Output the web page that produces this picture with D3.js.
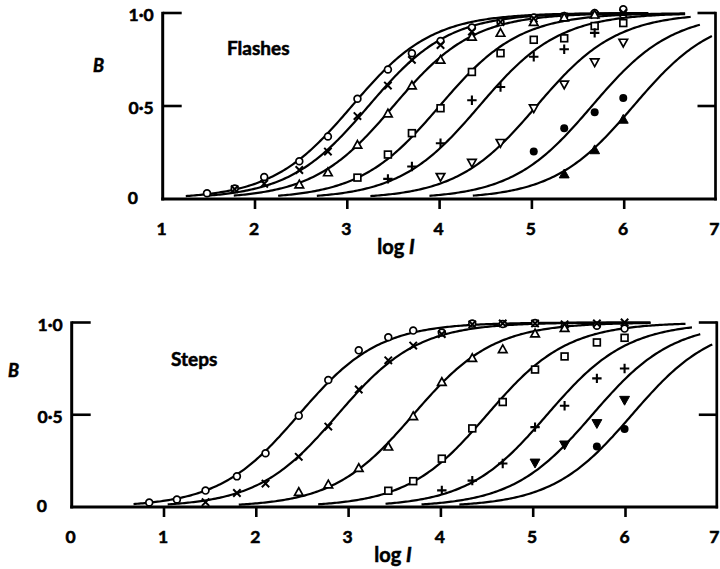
<!DOCTYPE html>
<html>
<head>
<meta charset="utf-8">
<script src="https://cdnjs.cloudflare.com/ajax/libs/d3/7.8.5/d3.min.js"></script>
<style>
  html, body { margin: 0; padding: 0; background: #fff; }
  svg { display: block; font-family: Lato, "Open Sans", sans-serif; font-weight: 700; }
  svg text { fill: #000; stroke: #000; stroke-width: 0.55px; }
</style>
</head>
<body>
<svg id="chart" width="720" height="569"></svg>
<script>
// ---------- Flashes: measured response B against log I ----------
const flashLogI = [1.48, 1.78, 2.10, 2.48, 2.79, 3.11, 3.44, 3.70, 4.01, 4.35, 4.66, 5.02, 5.35, 5.68, 5.99];
const flashCircle     = [0.031, 0.056, 0.118, 0.203, 0.336, 0.539, 0.696, 0.784, 0.849, 0.922, 0.951, 0.976, 0.984, 1.0, 1.02];
const flashCross      = [null, 0.053, 0.082, 0.156, 0.255, 0.446, 0.610, 0.748, 0.828, 0.900, 0.951, 0.970, 0.980, 0.990, 1.0];
const flashTriangle   = [null, null, null, 0.077, 0.142, 0.290, 0.459, 0.609, 0.747, 0.871, 0.892, 0.950, 0.975, 0.990, null];
const flashSquare     = [null, null, null, null, null, 0.115, 0.239, 0.354, 0.488, 0.683, 0.784, 0.856, 0.864, 0.930, 0.946];
const flashPlus       = [null, null, null, null, null, null, 0.108, 0.175, 0.300, 0.531, 0.602, 0.765, 0.805, 0.893, null];
const flashInvTri     = [null, null, null, null, null, null, null, null, 0.120, 0.196, 0.303, 0.489, 0.617, 0.736, 0.842];
const flashDot        = [null, null, null, null, null, null, null, null, null, null, null, 0.256, 0.381, 0.467, 0.543];
const flashFillTri    = [null, null, null, null, null, null, null, null, null, null, null, null, 0.133, 0.263, 0.427];
// fitted curves B = I/(I + sigma): log sigma and the log I span over which each is drawn
const flashLogSigma = [3.05, 3.23, 3.50, 4.00, 4.43, 5.05, 5.65, 6.10];
const flashCurveFrom = [1.25, 1.46, 1.77, 2.25, 2.67, 3.25, 3.89, 4.36];
const flashCurveTo   = [6.26, 6.26, 6.26, 6.66, 6.66, 6.72, 6.82, 6.95];
const flashTicks = [1, 2, 3, 4, 5, 6, 7];

// ---------- Steps ----------
const stepLogI = [0.84, 1.14, 1.45, 1.79, 2.10, 2.46, 2.78, 3.11, 3.43, 3.70, 4.01, 4.34, 4.67, 5.02, 5.34, 5.69, 5.99];
const stepCircle   = [0.024, 0.041, 0.089, 0.166, 0.291, 0.495, 0.688, 0.849, 0.920, 0.956, 0.946, 0.994, 0.992, 0.997, 0.978, 0.982, 0.967];
const stepCross    = [null, null, 0.026, 0.076, 0.127, 0.272, 0.436, 0.637, 0.795, 0.875, 0.937, 0.990, 0.995, 0.995, 0.990, 0.995, 1.0];
const stepTriangle = [null, null, null, null, null, 0.080, 0.121, 0.210, 0.326, 0.491, 0.676, 0.806, 0.854, 0.939, 0.969, null, null];
const stepSquare   = [null, null, null, null, null, null, null, null, 0.088, 0.140, 0.262, 0.426, 0.569, 0.745, 0.816, 0.892, 0.917];
const stepPlus     = [null, null, null, null, null, null, null, null, null, null, 0.090, 0.143, 0.236, 0.433, 0.549, 0.697, 0.751];
const stepFillInv  = [null, null, null, null, null, null, null, null, null, null, null, null, null, 0.240, 0.338, 0.454, 0.580];
const stepDot      = [null, null, null, null, null, null, null, null, null, null, null, null, null, null, null, 0.328, 0.423];
const stepLogSigma  = [2.46, 2.88, 3.70, 4.50, 5.15, 5.64, 6.07];
const stepCurveFrom = [0.67, 1.04, 1.81, 2.67, 3.40, 3.79, 4.20];
const stepCurveTo   = [6.27, 6.27, 6.27, 6.65, 6.72, 6.81, 6.94];
const stepTicks = [0, 1, 2, 3, 4, 5, 6, 7];

const yTickValues = [0, 0.5, 1];
const yTickText = ["0", "0\u00B75", "1\u00B70"];

const svg = d3.select("#chart");

// marker shapes, centred on (cx, cy)
function drawMarker(g, kind, cx, cy) {
  const p = d3.path();
  if (kind === "circle") {
    g.append("circle").attr("cx", cx).attr("cy", cy).attr("r", 3.4)
      .attr("fill", "#fff").attr("stroke", "#000").attr("stroke-width", 1.7);
    return;
  }
  if (kind === "dot") {
    g.append("circle").attr("cx", cx).attr("cy", cy).attr("r", 4).attr("fill", "#000");
    return;
  }
  if (kind === "square") {
    g.append("rect").attr("x", cx - 3.4).attr("y", cy - 3.4).attr("width", 6.8).attr("height", 6.8)
      .attr("fill", "#fff").attr("stroke", "#000").attr("stroke-width", 1.7);
    return;
  }
  if (kind === "cross") {
    p.moveTo(cx - 3.7, cy - 3.7); p.lineTo(cx + 3.7, cy + 3.7);
    p.moveTo(cx + 3.7, cy - 3.7); p.lineTo(cx - 3.7, cy + 3.7);
    g.append("path").attr("d", p).attr("stroke", "#000").attr("stroke-width", 2).attr("fill", "none");
    return;
  }
  if (kind === "plus") {
    p.moveTo(cx - 4.7, cy); p.lineTo(cx + 4.7, cy);
    p.moveTo(cx, cy - 4.7); p.lineTo(cx, cy + 4.7);
    g.append("path").attr("d", p).attr("stroke", "#000").attr("stroke-width", 2.1).attr("fill", "none");
    return;
  }
  const up = (kind === "triangle" || kind === "filltri");
  const s = (kind === "triangle" || kind === "invtri") ? 4.5 : 5.2;
  if (up) {
    p.moveTo(cx, cy - s); p.lineTo(cx + s * 0.95, cy + s * 0.7); p.lineTo(cx - s * 0.95, cy + s * 0.7);
  } else {
    p.moveTo(cx, cy + s); p.lineTo(cx + s * 0.95, cy - s * 0.7); p.lineTo(cx - s * 0.95, cy - s * 0.7);
  }
  p.closePath();
  const filled = (kind === "filltri" || kind === "fillinv");
  g.append("path").attr("d", p)
    .attr("fill", filled ? "#000" : "#fff")
    .attr("stroke", "#000").attr("stroke-width", filled ? 1 : 1.7)
    .attr("stroke-linejoin", "miter");
}

function drawPanel(cfg) {
  const g = svg.append("g");
  const x = d3.scaleLinear().domain(cfg.xDomain).range(cfg.xRange);
  const y = d3.scaleLinear().domain([0, 1]).range(cfg.yRange);
  const x0 = x(cfg.xDomain[0]);
  const xR = x(cfg.xDomain[1]) - 1;

  // frame: left axis, baseline, right axis
  const frame = g.append("g").attr("stroke", "#000").attr("fill", "none");
  frame.append("line").attr("x1", x0).attr("x2", x0).attr("y1", y(1) - 1.2).attr("y2", y(0) + 1.4).attr("stroke-width", 3);
  frame.append("line").attr("x1", x0 - 1.5).attr("x2", xR + 1.3).attr("y1", y(0)).attr("y2", y(0)).attr("stroke-width", 3);
  frame.append("line").attr("x1", xR).attr("x2", xR).attr("y1", y(1) - 1.2).attr("y2", y(0) + 1.4).attr("stroke-width", 2.7);
  [0.5, 1].forEach(v => {
    frame.append("line").attr("x1", x0).attr("x2", x0 + 19).attr("y1", y(v)).attr("y2", y(v)).attr("stroke-width", 2.6);
    frame.append("line").attr("x1", xR - 18).attr("x2", xR).attr("y1", y(v)).attr("y2", y(v)).attr("stroke-width", 2.6);
  });

  // x ticks (outward) and labels; the last label is kept inside the page edge
  const inner = cfg.ticks.slice(1, -1);
  g.append("g").selectAll("line").data(inner).join("line")
    .attr("x1", d => x(d)).attr("x2", d => x(d))
    .attr("y1", y(0)).attr("y2", y(0) + 10)
    .attr("stroke", "#000").attr("stroke-width", 2.6);
  const last = cfg.ticks[cfg.ticks.length - 1];
  g.append("g").selectAll("text").data(cfg.ticks).join("text")
    .attr("x", d => d === last ? 719.5 : x(d) - 1).attr("y", y(0) + 36)
    .attr("text-anchor", d => d === last ? "end" : "middle").attr("font-size", 17.5)
    .text(d => d);

  // y labels
  yTickValues.forEach((v, i) => {
    const t = g.append("text").attr("font-size", 17.5).text(yTickText[i]);
    if (v === 0) t.attr("x", x0 - 35).attr("y", y(0) + 5).attr("text-anchor", "start");
    else t.attr("x", x0 - 9).attr("y", y(v) + 8).attr("text-anchor", "end");
  });

  g.append("text").attr("x", cfg.bPos[0]).attr("y", cfg.bPos[1])
    .attr("font-size", 18).attr("font-style", "italic").text("B");

  const xl = g.append("text").attr("x", cfg.xLabelPos[0]).attr("y", cfg.xLabelPos[1])
    .attr("text-anchor", "middle").attr("font-size", 20);
  xl.append("tspan").text("log ");
  xl.append("tspan").attr("font-style", "italic").text("I");

  g.append("text").attr("x", cfg.titlePos[0]).attr("y", cfg.titlePos[1])
    .attr("font-size", 19).text(cfg.title);

  // fitted curves
  const line = d3.line().x(d => x(d[0])).y(d => y(d[1]));
  cfg.logSigma.forEach((s, i) => {
    const from = cfg.curveFrom[i], to = cfg.curveTo[i];
    const pts = d3.range(from, to, 0.02).concat([to]).map(v => [v, 1 / (1 + Math.pow(10, s - v))]);
    g.append("path").attr("d", line(pts)).attr("fill", "none")
      .attr("stroke", "#000").attr("stroke-width", 2.2);
  });

  // measured points
  const mg = g.append("g");
  cfg.series.forEach(sr => {
    sr.values.forEach((b, i) => {
      if (b === null) return;
      drawMarker(mg, sr.kind, x(cfg.logI[i]), y(b));
    });
  });
}

drawPanel({
  title: "Flashes", titlePos: [227, 55],
  xDomain: [1, 7], xRange: [162.7, 716.5], yRange: [199, 13],
  ticks: flashTicks, logI: flashLogI,
  bPos: [93, 72], xLabelPos: [396, 254],
  logSigma: flashLogSigma, curveFrom: flashCurveFrom, curveTo: flashCurveTo,
  series: [
    { kind: "circle", values: flashCircle },
    { kind: "cross", values: flashCross },
    { kind: "triangle", values: flashTriangle },
    { kind: "square", values: flashSquare },
    { kind: "plus", values: flashPlus },
    { kind: "invtri", values: flashInvTri },
    { kind: "dot", values: flashDot },
    { kind: "filltri", values: flashFillTri }
  ]
});

drawPanel({
  title: "Steps", titlePos: [171, 366],
  xDomain: [0, 7], xRange: [71.7, 717.8], yRange: [507, 322.5],
  ticks: stepTicks, logI: stepLogI,
  bPos: [8, 377], xLabelPos: [393, 562],
  logSigma: stepLogSigma, curveFrom: stepCurveFrom, curveTo: stepCurveTo,
  series: [
    { kind: "circle", values: stepCircle },
    { kind: "cross", values: stepCross },
    { kind: "triangle", values: stepTriangle },
    { kind: "square", values: stepSquare },
    { kind: "plus", values: stepPlus },
    { kind: "fillinv", values: stepFillInv },
    { kind: "dot", values: stepDot }
  ]
});
</script>
</body>
</html>
